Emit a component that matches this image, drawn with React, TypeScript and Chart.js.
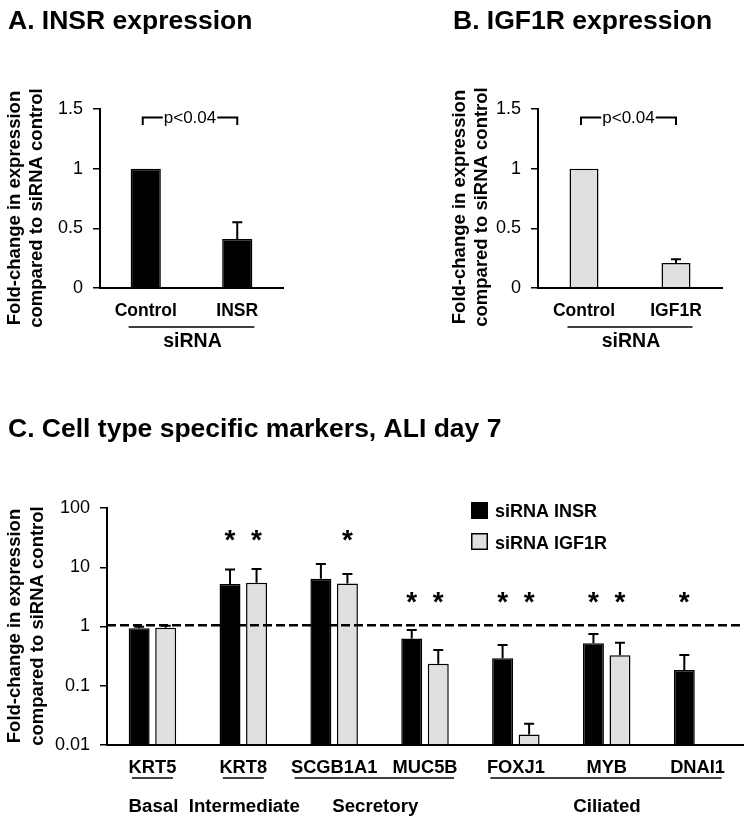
import React, { useEffect, useRef } from 'react';
import { Chart, registerables } from 'chart.js';

Chart.register(...registerables);

// ---------------- DATA ----------------
// Panel A: INSR expression
const aCategories = ['Control', 'INSR'];
const aValues = [1, 0.41];
const aUpper: (number | null)[] = [null, 0.55];

// Panel B: IGF1R expression
const bCategories = ['Control', 'IGF1R'];
const bValues = [1, 0.21];
const bUpper: (number | null)[] = [null, 0.24];

const abTickValues = [0, 0.5, 1, 1.5];
const pValueLabel = 'p<0.04';
const bracketLevel = 1.43;
const bracketDrop = 1.365;
const abGroupLabel = 'siRNA';
const yAxisTitle = ['Fold-change in expression', 'compared to siRNA control'];

// Panel C: cell type specific markers
const cCategories = ['KRT5', 'KRT8', 'SCGB1A1', 'MUC5B', 'FOXJ1', 'MYB', 'DNAI1'];
const seriesNames = ['siRNA INSR', 'siRNA IGF1R'];
const insrValues = [0.93, 5.2, 6.4, 0.63, 0.29, 0.52, 0.184];
const insrUpper = [0.99, 9.2, 11.3, 0.87, 0.485, 0.75, 0.33];
const igf1rValues: (number | null)[] = [0.95, 5.45, 5.3, 0.235, 0.0151, 0.326, null];
const igf1rUpper: (number | null)[] = [1.03, 9.3, 7.7, 0.4, 0.0229, 0.53, null];
const insrSignificant = [false, true, false, true, true, true, true];
const igf1rSignificant = [false, true, true, true, true, true, false];
const asteriskLevel: (number | null)[] = [null, 32, 32, 2.8, 2.8, 2.8, 2.8];
const cTickValues = [0.01, 0.1, 1, 10, 100];
const referenceLevel = 1.05;
const cellTypes = ['Basal', 'Intermediate', 'Secretory', 'Ciliated'];
const cellTypeFirst = [0, 1, 2, 4];
const cellTypeLast = [0, 1, 3, 6];

const titleA = 'A. INSR expression';
const titleB = 'B. IGF1R expression';
const titleC = 'C. Cell type specific markers, ALI day 7';

// ---------------- STYLE ----------------
const FAMILY = '"Liberation Sans", Arial, Helvetica, sans-serif';
const BLACK = '#000000';
const GRAY = '#e0e0e0';
const cssFont = (size: number, bold: boolean) => `${bold ? 'bold ' : ''}${size}px ${FAMILY}`;

type Extras = {
  title: { text: string; x: number; y: number };
  yTitle: { xs: number[]; cy: number };
  upper: (number | null)[][];
  bracket?: { level: number; drop: number; text: string };
  groups: {
    labels: string[];
    first: number[];
    last: number[];
    mode: 'bar' | 'label';
    lineY: number;
    textY: number;
    fontSize: number;
  };
  sig?: { flags: boolean[][]; level: (number | null)[] };
  refLine?: number;
  legend?: { x: number; ys: number[]; size: number; textX: number; textYs: number[] };
};

function makeExtras(cfg: Extras) {
  return {
    id: 'figureExtras',
    afterDatasetsDraw(chart: any) {
      const { ctx, chartArea } = chart;
      const ys = chart.scales.y;
      ctx.save();
      ctx.strokeStyle = BLACK;
      ctx.fillStyle = BLACK;
      // error bars (upper only)
      cfg.upper.forEach((arr, d) => {
        const meta = chart.getDatasetMeta(d);
        arr.forEach((u, i) => {
          if (u == null) return;
          const el = meta.data[i];
          if (!el) return;
          const yTop = ys.getPixelForValue(u);
          ctx.lineWidth = 2;
          ctx.beginPath();
          ctx.moveTo(el.x, el.y);
          ctx.lineTo(el.x, yTop);
          ctx.moveTo(el.x - 5, yTop);
          ctx.lineTo(el.x + 5, yTop);
          ctx.stroke();
        });
      });
      // reference dashed line
      if (cfg.refLine != null) {
        const y = ys.getPixelForValue(cfg.refLine);
        ctx.lineWidth = 2.5;
        ctx.setLineDash([9, 4]);
        ctx.beginPath();
        ctx.moveTo(chartArea.left, y);
        ctx.lineTo(chartArea.right - 3, y);
        ctx.stroke();
        ctx.setLineDash([]);
      }
      // significance asterisks
      if (cfg.sig) {
        const fs = 28;
        ctx.font = cssFont(fs, true);
        ctx.textAlign = 'center';
        ctx.textBaseline = 'alphabetic';
        cfg.sig.flags.forEach((flags, d) => {
          const meta = chart.getDatasetMeta(d);
          flags.forEach((f, i) => {
            const lv = cfg.sig!.level[i];
            if (!f || lv == null) return;
            const el = meta.data[i];
            const cy = ys.getPixelForValue(lv);
            ctx.fillText('*', el.x, cy + 0.4 * fs);
          });
        });
      }
      // p-value bracket
      if (cfg.bracket) {
        const meta = chart.getDatasetMeta(0);
        const x1 = meta.data[0].x - 3;
        const x2 = meta.data[1].x;
        const y = Math.round(ys.getPixelForValue(cfg.bracket.level)) + 0.5;
        const yd = ys.getPixelForValue(cfg.bracket.drop);
        ctx.font = cssFont(17, false);
        const w = ctx.measureText(cfg.bracket.text).width;
        const cx = (x1 + x2) / 2;
        ctx.lineWidth = 2;
        ctx.beginPath();
        ctx.moveTo(x1, yd);
        ctx.lineTo(x1, y);
        ctx.lineTo(cx - w / 2 - 1, y);
        ctx.moveTo(cx + w / 2 + 1, y);
        ctx.lineTo(x2, y);
        ctx.lineTo(x2, yd);
        ctx.stroke();
        ctx.textAlign = 'center';
        ctx.textBaseline = 'alphabetic';
        ctx.fillText(cfg.bracket.text, cx, y + 5);
      }
      ctx.restore();
    },
    afterDraw(chart: any) {
      const { ctx } = chart;
      const xs = chart.scales.x;
      ctx.save();
      ctx.fillStyle = BLACK;
      ctx.strokeStyle = BLACK;
      // panel title
      ctx.font = cssFont(26.5, true);
      ctx.textAlign = 'left';
      ctx.textBaseline = 'alphabetic';
      ctx.fillText(cfg.title.text, cfg.title.x, cfg.title.y);
      // y-axis title (two rotated lines)
      ctx.font = cssFont(18.5, true);
      ctx.textAlign = 'center';
      yAxisTitle.forEach((line, k) => {
        ctx.save();
        ctx.translate(cfg.yTitle.xs[k], cfg.yTitle.cy);
        ctx.rotate(-Math.PI / 2);
        ctx.fillText(line, 0, 0);
        ctx.restore();
      });
      // group brackets under the x axis
      const g = cfg.groups;
      const meta = chart.getDatasetMeta(0);
      g.labels.forEach((lab, k) => {
        let x1: number, x2: number;
        if (g.mode === 'bar') {
          const e1 = meta.data[g.first[k]];
          const e2 = meta.data[g.last[k]];
          x1 = e1.x - e1.width / 2 - 2;
          x2 = e2.x + e2.width / 2 + 2;
        } else {
          ctx.font = cssFont(18, true);
          const w1 = ctx.measureText(String(chart.data.labels[g.first[k]])).width;
          const w2 = ctx.measureText(String(chart.data.labels[g.last[k]])).width;
          x1 = xs.getPixelForValue(g.first[k]) - w1 / 2 + 3;
          x2 = xs.getPixelForValue(g.last[k]) + w2 / 2 - 3;
        }
        ctx.lineWidth = 1.6;
        ctx.beginPath();
        ctx.moveTo(x1, g.lineY);
        ctx.lineTo(x2, g.lineY);
        ctx.stroke();
        ctx.font = cssFont(g.fontSize, true);
        ctx.textAlign = 'center';
        ctx.textBaseline = 'alphabetic';
        ctx.fillText(lab, (x1 + x2) / 2 + 1, g.textY);
      });
      // legend
      if (cfg.legend) {
        const L = cfg.legend;
        chart.data.datasets.forEach((ds: any, d: number) => {
          ctx.fillStyle = ds.backgroundColor;
          ctx.fillRect(L.x, L.ys[d], L.size, L.size);
          ctx.lineWidth = 1.5;
          ctx.strokeStyle = BLACK;
          ctx.strokeRect(L.x + 0.75, L.ys[d] + 0.75, L.size - 1.5, L.size - 1.5);
          ctx.fillStyle = BLACK;
          ctx.font = cssFont(18, true);
          ctx.textAlign = 'left';
          ctx.textBaseline = 'alphabetic';
          ctx.fillText(ds.label, L.textX, L.textYs[d]);
        });
      }
      ctx.restore();
    },
  };
}

function xAxis(size: number, pad: number, height: number): any {
  return {
    grid: { display: false, drawTicks: false },
    border: { display: true, color: BLACK, width: 2, z: 1 },
    ticks: {
      color: BLACK,
      font: { family: FAMILY, size, weight: 'bold' },
      padding: pad,
      autoSkip: false,
      maxRotation: 0,
      minRotation: 0,
    },
    afterFit: (s: any) => {
      s.height = height;
    },
  };
}

function linearPanel(
  labels: string[],
  values: number[],
  color: string,
  yAxisWidth: number,
  padRight: number,
  barPct: number,
  extras: Extras,
): any {
  return {
    type: 'bar',
    data: {
      labels,
      datasets: [
        {
          label: abGroupLabel,
          data: values,
          backgroundColor: color,
          borderColor: BLACK,
          borderWidth: 1.5,
          barPercentage: barPct,
          categoryPercentage: 1,
        },
      ],
    },
    options: {
      responsive: false,
      animation: false,
      devicePixelRatio: 1,
      layout: { padding: { left: 0, top: 109, right: padRight, bottom: 0 } },
      plugins: { legend: { display: false }, tooltip: { enabled: false }, title: { display: false } },
      scales: {
        x: xAxis(17.5, 13, 84),
        y: {
          min: abTickValues[0],
          max: abTickValues[abTickValues.length - 1],
          afterBuildTicks: (s: any) => {
            s.ticks = abTickValues.map((v) => ({ value: v }));
          },
          ticks: {
            color: BLACK,
            font: { family: FAMILY, size: 18 },
            padding: 10,
            callback: (v: any) => String(v),
          },
          grid: { drawOnChartArea: false, drawTicks: true, tickLength: 7, color: BLACK, lineWidth: 1.5 },
          border: { display: true, color: BLACK, width: 2 },
          afterFit: (s: any) => {
            s.width = yAxisWidth;
          },
        },
      },
    },
    plugins: [makeExtras(extras)],
  };
}

function configA(): any {
  return linearPanel(aCategories, aValues, BLACK, 100, 93, 0.33, {
    title: { text: titleA, x: 8, y: 29 },
    yTitle: { xs: [20, 42], cy: 208 },
    upper: [aUpper],
    bracket: { level: bracketLevel, drop: bracketDrop, text: pValueLabel },
    groups: { labels: [abGroupLabel], first: [0], last: [1], mode: 'bar', lineY: 327, textY: 347, fontSize: 19.5 },
  });
}

function configB(): any {
  return linearPanel(bCategories, bValues, GRAY, 162, 31, 0.315, {
    title: { text: titleB, x: 77, y: 29 },
    yTitle: { xs: [89, 111], cy: 207 },
    upper: [bUpper],
    bracket: { level: bracketLevel, drop: bracketDrop, text: pValueLabel },
    groups: { labels: [abGroupLabel], first: [0], last: [1], mode: 'bar', lineY: 327, textY: 347, fontSize: 19.5 },
  });
}

function configC(): any {
  return {
    type: 'bar',
    data: {
      labels: cCategories,
      datasets: [
        {
          label: seriesNames[0],
          data: insrValues,
          backgroundColor: BLACK,
          borderColor: BLACK,
          borderWidth: 1.5,
          barPercentage: 0.79,
          categoryPercentage: 0.584,
        },
        {
          label: seriesNames[1],
          data: igf1rValues,
          backgroundColor: GRAY,
          borderColor: BLACK,
          borderWidth: 1.5,
          barPercentage: 0.79,
          categoryPercentage: 0.584,
        },
      ],
    },
    options: {
      responsive: false,
      animation: false,
      devicePixelRatio: 1,
      layout: { padding: { left: 0, top: 128, right: 10, bottom: 0 } },
      plugins: { legend: { display: false }, tooltip: { enabled: false }, title: { display: false } },
      scales: {
        x: xAxis(18.3, 12, 81),
        y: {
          type: 'logarithmic',
          min: cTickValues[0],
          max: cTickValues[cTickValues.length - 1],
          afterBuildTicks: (s: any) => {
            s.ticks = cTickValues.map((v) => ({ value: v }));
          },
          ticks: {
            color: BLACK,
            font: { family: FAMILY, size: 18 },
            padding: 10,
            callback: (v: any) => String(v),
          },
          grid: { drawOnChartArea: false, drawTicks: true, tickLength: 7, color: BLACK, lineWidth: 1.5 },
          border: { display: true, color: BLACK, width: 2 },
          afterFit: (s: any) => {
            s.width = 107;
          },
        },
      },
    },
    plugins: [
      makeExtras({
        title: { text: titleC, x: 8, y: 57 },
        yTitle: { xs: [20, 43], cy: 246 },
        upper: [insrUpper, igf1rUpper],
        sig: { flags: [insrSignificant, igf1rSignificant], level: asteriskLevel },
        refLine: referenceLevel,
        groups: {
          labels: cellTypes,
          first: cellTypeFirst,
          last: cellTypeLast,
          mode: 'label',
          lineY: 398,
          textY: 432,
          fontSize: 18.7,
        },
        legend: { x: 471, ys: [122, 153], size: 17, textX: 495, textYs: [137, 169] },
      }),
    ],
  };
}

function ChartCanvas(props: { left: number; top: number; width: number; height: number; build: () => any }) {
  const ref = useRef<HTMLCanvasElement>(null);
  useEffect(() => {
    if (!ref.current) return;
    const chart = new Chart(ref.current, props.build());
    return () => chart.destroy();
  }, []);
  return (
    <canvas
      ref={ref}
      width={props.width}
      height={props.height}
      style={{ position: 'absolute', left: props.left, top: props.top, width: props.width, height: props.height }}
    />
  );
}

export default function App() {
  return (
    <div style={{ position: 'absolute', left: 0, top: 0, width: 753, height: 826, background: '#ffffff' }}>
      <ChartCanvas left={0} top={0} width={376} height={372} build={configA} />
      <ChartCanvas left={376} top={0} width={377} height={372} build={configB} />
      <ChartCanvas left={0} top={380} width={753} height={446} build={configC} />
    </div>
  );
}
